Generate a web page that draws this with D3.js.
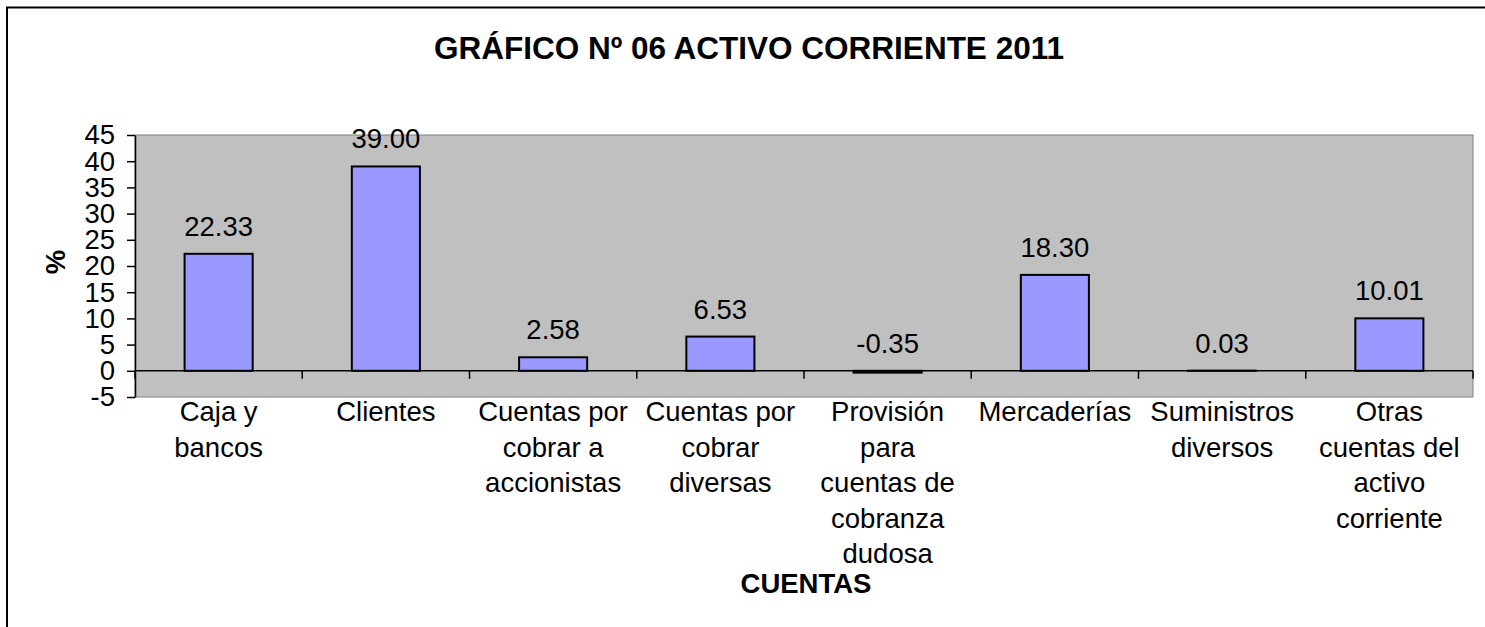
<!DOCTYPE html>
<html>
<head>
<meta charset="utf-8">
<script src="https://cdn.jsdelivr.net/npm/d3@7"></script>
<style>
  html, body { margin: 0; padding: 0; background: #fff; overflow: hidden; }
  svg { display: block; font-family: "Liberation Sans", Arial, sans-serif; }
</style>
</head>
<body>
<div id="chart"></div>
<script>
// chart data
const title = "GRÁFICO Nº 06 ACTIVO CORRIENTE 2011";
const xTitle = "CUENTAS";
const yTitle = "%";
const categories = [
    ["Caja y", "bancos"],
    ["Clientes"],
    ["Cuentas por", "cobrar a", "accionistas"],
    ["Cuentas por", "cobrar", "diversas"],
    ["Provisión", "para", "cuentas de", "cobranza", "dudosa"],
    ["Mercaderías"],
    ["Suministros", "diversos"],
    ["Otras", "cuentas del", "activo", "corriente"]
];
const values = [22.33, 39.00, 2.58, 6.53, -0.35, 18.30, 0.03, 10.01];
const yTicks = [-5, 0, 5, 10, 15, 20, 25, 30, 35, 40, 45];

const width = 1485, height = 627;
const margin = { top: 135, right: 12, bottom: 230, left: 135 };
const innerWidth = width - margin.left - margin.right;
const innerHeight = height - margin.top - margin.bottom;
const fontSize = 27.5;

const svg = d3.select("#chart").append("svg")
    .attr("width", width)
    .attr("height", height);

// outer chart border: only top and left edges are in frame
svg.append("path")
    .attr("d", `M7,${height} V7.5 H${width}`)
    .attr("fill", "none")
    .attr("stroke", "#000")
    .attr("stroke-width", 2);

svg.append("text")
    .attr("x", 749).attr("y", 59)
    .attr("text-anchor", "middle")
    .style("font-size", "31.5px")
    .style("font-weight", "bold")
    .text(title);

const g = svg.append("g")
    .attr("transform", `translate(${margin.left}, ${margin.top})`);

// scales
const x = d3.scaleBand()
    .domain(d3.range(categories.length))
    .range([0, innerWidth])
    .padding(0);

const y = d3.scaleLinear()
    .domain([-5, 45])
    .range([innerHeight, 0]);

const barWidth = x.bandwidth() * 0.407;

// plot area
g.append("rect")
    .attr("width", innerWidth)
    .attr("height", innerHeight)
    .attr("fill", "#c0c0c0")
    .attr("stroke", "#808080")
    .attr("stroke-width", 1);

// bars
g.selectAll("rect.bar")
    .data(values)
    .join("rect")
    .attr("class", "bar")
    .attr("x", (d, i) => x(i) + (x.bandwidth() - barWidth) / 2)
    .attr("y", d => y(Math.max(d, 0)))
    .attr("width", barWidth)
    .attr("height", d => Math.abs(y(d) - y(0)))
    .attr("fill", "#9999ff")
    .attr("stroke", "#000")
    .attr("stroke-width", 2);

// value labels
g.selectAll("text.val")
    .data(values)
    .join("text")
    .attr("class", "val")
    .attr("x", (d, i) => x(i) + x.bandwidth() / 2)
    .attr("y", d => y(Math.max(d, 0)) - 18)
    .attr("text-anchor", "middle")
    .style("font-size", `${fontSize}px`)
    .text(d => d.toFixed(2));

// y axis
const yAxis = d3.axisLeft(y)
    .tickValues(yTicks)
    .tickFormat(d => String(d))
    .tickSize(8)
    .tickPadding(12)
    .tickSizeOuter(0);

const yG = g.append("g").call(yAxis);
yG.select(".domain").attr("stroke", "#000").attr("stroke-width", 1.5);
yG.selectAll(".tick line").attr("stroke", "#000").attr("stroke-width", 1.5);
yG.selectAll("text")
    .attr("fill", "#000")
    .style("font-size", `${fontSize}px`)
    .style("font-family", "'Liberation Sans', Arial, sans-serif");

// zero line with category boundary ticks
g.append("line")
    .attr("x1", 0).attr("x2", innerWidth)
    .attr("y1", y(0)).attr("y2", y(0))
    .attr("stroke", "#000")
    .attr("stroke-width", 1.5);

const boundaries = d3.range(categories.length + 1).map(i => i * x.step());
g.selectAll("line.xtick")
    .data(boundaries)
    .join("line")
    .attr("class", "xtick")
    .attr("x1", d => d).attr("x2", d => d)
    .attr("y1", y(0)).attr("y2", y(0) + 8)
    .attr("stroke", "#000")
    .attr("stroke-width", 1.5);

// category labels
const catG = g.selectAll("text.cat")
    .data(categories)
    .join("text")
    .attr("class", "cat")
    .attr("text-anchor", "middle")
    .style("font-size", `${fontSize}px`);

catG.selectAll("tspan")
    .data((d, i) => d.map(line => ({ line, i })))
    .join("tspan")
    .attr("x", d => x(d.i) + x.bandwidth() / 2)
    .attr("y", (d, j) => innerHeight + 24 + j * 35.5)
    .text(d => d.line);

// axis titles
g.append("text")
    .attr("x", innerWidth / 2 + 2)
    .attr("y", innerHeight + 196)
    .attr("text-anchor", "middle")
    .style("font-size", `${fontSize}px`)
    .style("font-weight", "bold")
    .text(xTitle);

svg.append("text")
    .attr("transform", `translate(65, 262) rotate(-90)`)
    .attr("text-anchor", "middle")
    .style("font-size", `${fontSize}px`)
    .style("font-weight", "bold")
    .text(yTitle);
</script>
</body>
</html>
